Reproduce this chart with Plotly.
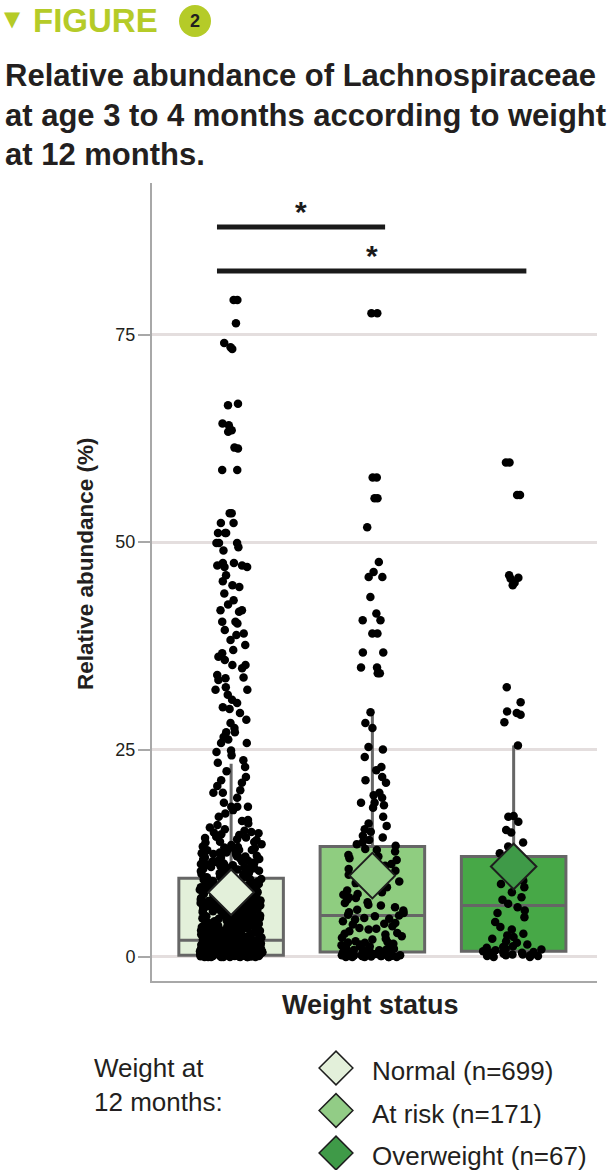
import plotly.graph_objects as go

# ---------------- data ----------------
groups = ["Normal", "At risk", "Overweight"]
group_n = [699, 171, 67]
box_q1 = [0.2, 0.6, 0.7]
box_median = [2.0, 5.0, 6.2]
box_q3 = [9.5, 13.3, 12.1]
box_lowerfence = [0.0, 0.0, 0.0]
box_upperfence = [23.3, 29.5, 25.5]
group_mean = [7.8, 9.8, 10.9]

normal_values = [
    79.2, 79.2, 76.4, 73.3, 73.5, 74.0, 66.7, 66.5, 64.1, 63.5, 64.3, 63.3, 61.3, 61.4, 58.7, 58.7,
    53.5, 53.5, 52.3, 52.3, 51.1, 51.1, 51.1, 49.9, 49.9, 49.9, 49.4, 49.0, 47.2, 47.2, 47.0,
    47.5, 47.5, 47.0, 44.6, 44.8, 41.8, 41.8, 41.6, 40.4, 40.4, 40.2, 39.4, 38.2, 39.0, 37.0,
    36.6, 35.8, 35.2, 35.2, 33.6, 33.7, 33.4, 32.2, 32.2, 32.5, 31.0, 30.1, 29.4, 28.6, 28.2,
    27.1, 27.1, 26.5, 25.8, 25.8, 24.7, 24.9, 23.4, 23.7, 22.9, 21.3, 21.7, 21.0, 20.1, 19.8,
    19.8, 18.1, 18.1, 18.1, 17.3, 16.5, 16.9,
    46.0, 45.3, 43.8, 43.0, 42.5, 38.8, 37.6, 36.2, 34.8, 34.0, 31.6, 30.6, 29.9, 27.6, 26.2,
    24.3, 22.4, 20.6, 19.2, 18.6, 17.7,
    16.4, 16.1, 15.9, 15.4, 15.2, 15.0, 14.8, 14.5, 14.4, 14.1, 13.9, 13.8, 13.5, 13.2, 13.1,
    12.9, 12.6, 12.5, 12.3, 12.1, 11.9, 11.8, 11.6, 11.3, 11.2, 11.0, 10.9, 10.7, 10.4, 10.3,
    10.1, 9.9, 9.8, 9.6, 9.5, 15.6, 14.7, 14.2, 13.3, 12.8, 12.2, 11.7, 11.4, 10.8, 10.5, 10.2,
    9.7, 13.6, 12.4, 11.1, 10.6, 14.9, 13.0, 11.5, 10.0,
    12.9, 12.3, 11.8, 11.1, 10.6, 10.1, 9.6, 9.1, 8.7, 8.2, 7.8, 7.4, 6.9, 6.5, 6.1, 5.7, 5.3,
    4.9, 4.5, 4.1, 3.7, 3.3, 2.9, 2.5, 2.1, 12.6, 11.5, 10.4, 9.3, 8.5, 7.6, 6.7, 5.8, 4.7,
    3.8, 3.0, 2.3, 12.0, 10.9, 9.9, 8.9, 8.0, 7.1, 6.3, 5.5, 4.6, 3.6, 2.7, 11.3, 9.4, 7.9,
    6.4, 5.1, 3.9, 2.6, 10.7, 8.3, 6.0, 4.3, 3.1,
    7.35, 2.45, 11.95, 5.15, 9.75, 3.55, 12.55, 6.75, 4.15, 10.35, 8.05, 2.95, 13.25, 5.85,
    9.15, 3.25, 11.05, 6.25, 4.85, 12.15, 7.95, 2.15, 10.85, 5.45, 8.65, 3.85, 14.35, 6.95,
    4.35, 9.55, 12.85, 7.15, 2.75, 11.25, 5.65, 8.95, 3.45, 10.05, 6.55, 13.85, 4.65, 7.65,
    2.35, 11.65, 9.35, 5.25, 8.45, 3.15, 12.35, 6.05, 15.05, 4.05, 10.55, 7.85, 2.65, 11.45,
    5.95, 9.05, 3.95, 6.45,
    9.4, 9.2, 9.1, 8.9, 8.8, 8.6, 8.5, 8.3, 8.2, 8.0, 7.9, 7.7, 7.6, 7.4, 7.3, 7.1, 7.0, 6.8,
    6.7, 6.5, 6.4, 6.2, 6.1, 5.9, 5.8, 5.6, 5.5, 5.3, 5.2, 5.0, 9.3, 8.7, 8.1, 7.8, 7.2, 6.9,
    6.3, 6.0, 5.7, 5.1, 9.0, 8.4, 7.5, 6.6, 5.4, 8.9, 7.7, 6.5, 5.9, 5.2, 8.6, 7.3, 6.2, 5.5, 5.0,
    4.9, 4.8, 4.8, 4.7, 4.6, 4.5, 4.5, 4.4, 4.3, 4.2, 4.2, 4.1, 4.0, 3.9, 3.9, 3.8, 3.7, 3.6,
    3.6, 3.5, 3.4, 3.3, 3.3, 3.2, 3.1, 3.0, 3.0, 2.9, 2.8, 2.7, 2.7, 2.6, 2.5, 2.4, 2.4, 2.3,
    2.2, 2.1, 2.1, 2.0, 4.9, 4.6, 4.3, 4.0, 3.7, 3.4, 3.1, 2.8, 2.5, 2.2, 4.7, 4.1, 3.5, 2.9,
    2.3, 4.4, 3.8, 3.2, 2.6, 2.0, 4.5, 3.9, 3.3, 2.7, 2.1,
    1.9, 1.9, 1.8, 1.8, 1.8, 1.7, 1.7, 1.7, 1.6, 1.6, 1.6, 1.5, 1.5, 1.5, 1.5, 1.4, 1.4, 1.4,
    1.3, 1.3, 1.3, 1.3, 1.2, 1.2, 1.2, 1.2, 1.1, 1.1, 1.1, 1.1, 1.0, 1.0, 1.0, 1.0, 1.0, 0.9,
    0.9, 0.9, 0.9, 0.9, 0.8, 0.8, 0.8, 0.8, 0.8, 0.8, 0.7, 0.7, 0.7, 0.7, 0.7, 0.7, 0.6, 0.6,
    0.6, 0.6, 0.6, 0.6, 0.6, 0.5, 0.5, 0.5, 0.5, 0.5, 0.5, 0.5, 0.4, 0.4, 0.4, 0.4, 0.4, 0.4,
    0.4, 0.4, 0.3, 0.3, 0.3, 0.3, 0.3, 0.3, 0.3, 0.3, 0.2, 0.2, 0.2, 0.2, 0.2, 0.2, 0.2, 0.2,
    0.2, 0.1, 0.1, 0.1, 0.1, 0.1, 0.1, 0.1, 0.1, 0.1, 0.0, 0.0, 0.0, 0.0, 0.0, 0.0, 0.0, 0.0,
    0.0, 0.0, 1.95, 1.85, 1.65, 1.45, 1.35, 1.15, 1.05, 0.95, 0.85, 0.75, 0.65, 0.55, 0.45,
    0.35, 0.25, 0.15, 0.05, 0.05, 0.15, 0.25,
    1.72, 0.38, 1.18, 0.82, 1.52, 0.12, 1.88, 0.62, 1.32, 0.28, 0.97, 1.62, 0.48, 1.08, 0.73,
    1.42, 0.18, 1.78, 0.57, 1.27, 0.02, 0.88, 1.57, 0.33, 1.13, 0.68, 1.93, 0.43, 1.38, 0.22,
    1.03, 1.67, 0.53, 0.93, 1.22, 0.08, 1.83, 0.78, 1.47, 0.27,
]

at_risk_values = [
    77.6, 77.6, 57.8, 57.8, 55.3, 55.3, 51.8, 47.6, 46.4, 45.8, 45.8, 43.4, 41.4, 40.6, 40.6,
    39.0, 39.0, 36.7, 36.7, 34.9, 34.9, 34.2, 34.2, 29.5, 28.2, 27.6, 25.3, 25.0, 24.1, 22.9,
    22.5, 21.7, 21.3, 21.0, 19.8, 19.5, 18.6, 18.3, 18.6, 16.9, 16.1, 19.2, 18.0,
    15.8, 15.1, 14.6, 14.1, 13.8, 13.4, 13.0, 12.7, 12.3, 11.9, 11.7, 11.2, 10.9, 10.6, 10.2,
    9.9, 9.6, 15.4, 13.6, 12.1, 11.0, 10.4, 14.4, 12.9, 9.8,
    9.3, 9.0, 8.7, 8.4, 8.1, 7.8, 7.5, 7.2, 6.9, 6.6, 6.3, 6.0, 5.7, 5.4, 5.1, 8.9, 8.0, 7.1,
    6.2, 5.3, 9.1, 7.6, 6.5, 5.6, 5.0,
    4.9, 4.7, 4.5, 4.3, 4.1, 3.9, 3.7, 3.5, 3.3, 3.1, 2.9, 2.7, 2.5, 2.3, 2.1, 1.9, 1.8, 1.7,
    1.6, 1.5, 1.4, 1.3, 1.2, 1.1, 1.0, 0.9, 0.9, 0.8, 0.8, 0.7, 0.7, 0.6, 0.6, 0.5, 0.5, 0.5,
    0.4, 0.4, 0.4, 0.3, 0.3, 0.3, 0.3, 0.2, 0.2, 0.2, 0.2, 0.1, 0.1, 0.1, 0.1, 0.1, 0.0, 0.0,
    0.0, 0.0, 0.0, 0.0, 4.6, 4.0, 3.4, 2.8, 2.2, 1.75, 1.25, 0.85, 0.45, 0.15, 0.05, 0.35,
]

overweight_values = [
    59.6, 59.6, 55.7, 55.7, 46.0, 45.7, 45.1, 45.6, 44.8, 32.5, 30.7, 29.4, 29.2, 29.6, 28.3,
    25.5, 17.0, 16.9, 16.3, 15.0, 15.3, 13.8, 13.3, 10.5, 8.4, 8.8, 7.2, 5.3, 3.6, 2.4, 2.6,
    11.4, 12.5, 9.2, 7.8, 6.9, 6.4, 6.0, 5.6, 4.8, 4.2, 3.3, 2.8, 2.2, 1.9, 1.7, 1.5, 1.3,
    1.2, 1.0, 0.9, 0.8, 0.7, 0.6, 0.5, 0.5, 0.4, 0.3, 0.3, 0.2, 0.2, 0.1, 0.1, 0.0, 0.0,
    0.6, 1.1,
]
group_values = [normal_values, at_risk_values, overweight_values]

sig_pairs = [(0, 1), (0, 2)]
sig_heights = [88.0, 82.7]
sig_labels = ["*", "*"]

y_ticks = [0, 25, 50, 75]
legend_labels = [f"{g} (n={n})" for g, n in zip(groups, group_n)]

# ---------------- style ----------------
W, H = 611, 1170
ML, MR, MT, MB = 152, 14, 183, 0
PAPER_W = W - ML - MR
PAPER_H = H - MT - MB
PLOT_BOTTOM_PX = 981

FONT = "Liberation Sans, Arial, Helvetica, sans-serif"
TXT = "#231f20"
GREEN = "#b5cb28"
box_fill = ["#e3f0da", "#8fcd80", "#47a847"]
diamond_fill = ["#e3f0da", "#92cc86", "#3f9a48"]
BOX_W = 0.74


def px_x(px):
    return (px - ML) / PAPER_W


def px_y(py):
    return (H - MB - py) / PAPER_H


def note(text, x, y, size, xanchor="center", yanchor="middle", color=TXT,
         family=FONT, **kw):
    fig.add_annotation(x=px_x(x), y=px_y(y), xref="paper", yref="paper",
                       xanchor=xanchor, yanchor=yanchor, text=text, showarrow=False,
                       font=dict(family=family, size=size, color=color), **kw)


fig = go.Figure()

# precomputed boxes
for i, g in enumerate(groups):
    fig.add_trace(go.Box(
        x=[i], q1=[box_q1[i]], median=[box_median[i]], q3=[box_q3[i]],
        lowerfence=[box_lowerfence[i]], upperfence=[box_upperfence[i]],
        width=BOX_W, fillcolor=box_fill[i], whiskerwidth=0,
        line=dict(color="#666666", width=3), boxpoints=False,
        hoverinfo="skip", showlegend=False,
    ))

# jittered sample points (plotly's own jitter)
for i, vals in enumerate(group_values):
    fig.add_trace(go.Box(
        y=vals, x0=i, width=BOX_W, boxpoints="all", jitter=0.6, pointpos=0,
        fillcolor="rgba(0,0,0,0)", line=dict(color="rgba(0,0,0,0)", width=0),
        marker=dict(color="black", size=8.5, line=dict(width=0)),
        hoverinfo="skip", showlegend=False,
    ))

# means
fig.add_trace(go.Scatter(
    x=list(range(len(groups))), y=group_mean, mode="markers",
    marker=dict(symbol="diamond", size=35, color=diamond_fill,
                line=dict(color="#1e1e1e", width=2)),
    hoverinfo="skip", showlegend=False,
))

# significance bars
for (a, b), h, lab in zip(sig_pairs, sig_heights, sig_labels):
    fig.add_trace(go.Scatter(
        x=[a - 0.1, b + 0.09], y=[h, h], mode="lines",
        line=dict(color="#1a1a1a", width=5), hoverinfo="skip", showlegend=False,
    ))
    fig.add_annotation(
        x=(a - 0.1 + b + 0.09) / 2, y=h, xref="x", yref="y", text=f"<b>{lab}</b>",
        showarrow=False, font=dict(family=FONT, size=30, color="#1a1a1a"),
        xanchor="center", yanchor="middle", yshift=15,
    )

# legend (own small axes)
fig.add_trace(go.Scatter(
    x=[0] * len(groups), y=list(range(len(groups))), xaxis="x2", yaxis="y2",
    mode="markers", cliponaxis=False,
    marker=dict(symbol="diamond", size=26, color=diamond_fill,
                line=dict(color="#1e1e1e", width=1.5)),
    hoverinfo="skip", showlegend=False,
))
for i, lab in enumerate(legend_labels):
    fig.add_annotation(x=0, y=i, xref="x2", yref="y2", text=lab, showarrow=False,
                       xanchor="left", yanchor="middle", xshift=34, yshift=-3,
                       font=dict(family=FONT, size=26, color=TXT))

fig.update_layout(
    width=W, height=H, margin=dict(l=ML, r=MR, t=MT, b=MB),
    paper_bgcolor="white", plot_bgcolor="white", boxmode="overlay",
    showlegend=False, font=dict(family=FONT, color=TXT),
    xaxis=dict(type="linear", range=[-0.56, 2.59], showgrid=False, zeroline=False,
               showticklabels=False, ticks="", showline=True, linecolor="#a8a8a8",
               linewidth=2, anchor="y"),
    yaxis=dict(domain=[px_y(PLOT_BOTTOM_PX), 1], range=[-2.9, 93.3], tickvals=y_ticks,
               ticks="outside", ticklen=12, tickwidth=2, tickcolor="#a8a8a8",
               showline=True, linecolor="#a8a8a8", linewidth=2, zeroline=False,
               showgrid=True, gridcolor="#e4dede", gridwidth=3, ticklabelstandoff=-1,
               tickfont=dict(family=FONT, size=18, color=TXT), anchor="x"),
    xaxis2=dict(domain=[px_x(296), px_x(376)], range=[-1, 1], visible=False, anchor="y2"),
    yaxis2=dict(domain=[0, px_y(1046.75)], range=[2.4, -0.5], visible=False, anchor="x2"),
)

# axis titles
note("<b>Relative abundance (%)</b>", 85, 564, 22.5, textangle=-90)
note("<b>Weight status</b>", 370.5, 1005, 27)

# legend title
note("Weight at<br>12 months:", 92, 1051, 26, xanchor="left", yanchor="top", align="left")

# header
note("\u25BC", 12, 19, 21, family="DejaVu Sans", color=GREEN)
note("<b>FIGURE</b>", 31, 21, 33, xanchor="left", color=GREEN)
fig.add_shape(type="circle", xref="paper", yref="paper",
              x0=px_x(179), x1=px_x(211), y0=px_y(37), y1=px_y(5),
              fillcolor=GREEN, line=dict(width=0))
note("<b>2</b>", 195, 21, 18)

title_lines = ["Relative abundance of Lachnospiraceae",
               "at age 3 to 4 months according to weight",
               "at 12 months."]
for line, cy in zip(title_lines, [75, 115, 155]):
    note(f"<b>{line}</b>", 3, cy, 31, xanchor="left")

fig.write_html("out.html", config={"displayModeBar": False},
               post_script="document.body.style.margin='0px';")
